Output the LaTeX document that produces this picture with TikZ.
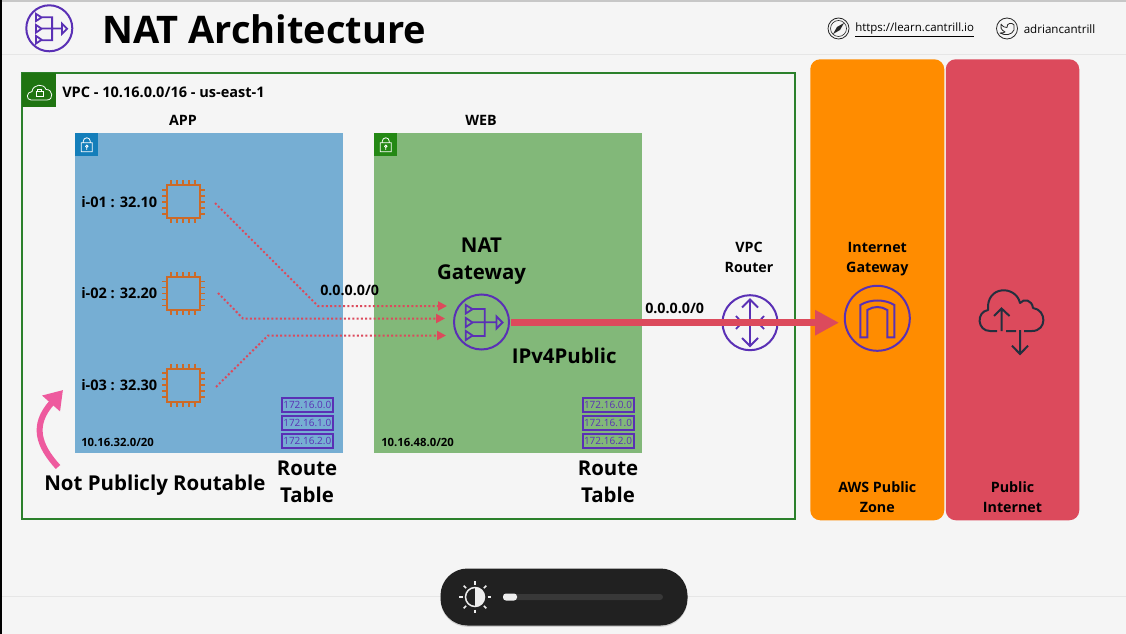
\documentclass[tikz,border=0pt]{standalone}
\usepackage{fontspec}
\setmainfont{Open Sans}
\usetikzlibrary{arrows.meta,shadows}
\newlength{\du}
\setlength{\du}{0.75pt}
\definecolor{vpcgreen}{HTML}{2B802B}
\definecolor{tagblue}{HTML}{147EBA}
\definecolor{taggreen}{HTML}{248814}
\definecolor{appblue}{HTML}{76AED3}
\definecolor{webgreen}{HTML}{82B879}
\definecolor{awspurple}{HTML}{5A30B5}
\definecolor{chiporange}{HTML}{CC6A28}
\definecolor{zoneorange}{HTML}{FF8C00}
\definecolor{netred}{HTML}{DC4A5C}
\definecolor{flowred}{HTML}{DC4A5C}
\definecolor{hookpink}{HTML}{EE5A9E}
\definecolor{pagegrey}{HTML}{F5F5F5}
\definecolor{rulegrey}{HTML}{E6E6E6}
\definecolor{inkdark}{HTML}{232F3E}
\tikzset{
  boldtxt/.style={font=\bfseries\fontsize{#1}{#1}\selectfont,inner sep=0pt,align=center,text=black},
  bigstack/.style={font=\bfseries\fontsize{15.3}{20.3}\selectfont,inner sep=0pt,align=center,text=black},
  smallstack/.style={font=\bfseries\fontsize{10.7}{15}\selectfont,inner sep=0pt,align=center,text=black},
  subnet/.style={rectangle,minimum width=268\du,minimum height=320\du,inner sep=0pt,anchor=north west},
  cornertag/.style={rectangle,minimum size=23\du,inner sep=0pt,anchor=north west},
  rtbox/.style={draw=awspurple,line width=2\du,minimum width=51\du,minimum height=14\du,inner sep=0pt,text=awspurple,font=\fontsize{7.5}{7.5}\selectfont},
  chipbox/.style={draw=chiporange,line width=2\du,minimum size=33\du,inner sep=0pt},
  awscircle/.style={circle,draw=awspurple,line width=2\du,inner sep=0pt},
  dotflow/.style={draw=flowred,line width=1.5pt,dash pattern=on 1.5pt off 1.7pt,-{Triangle[length=6.75pt,width=6.75pt,fill=flowred]}},
  zonebox/.style={rectangle,rounded corners=10\du,inner sep=0pt,anchor=north west},
  natglyph/.pic={
    \draw[awspurple,line width=1.8\du,line join=miter] (-15.7,-17)--(-9,-12.8)--(-15.7,-8.5)--cycle (-15.7,-4)--(-9,0.5)--(-15.7,5)--cycle (-15.7,9)--(-9,13.5)--(-15.7,18)--cycle (-9,-13)--(3.3,-13)--(3.3,14)--(-9,14) (-9,0.3)--(15,0.3) (15,-5.5)--(21,0.5)--(15,6.5)--cycle;
  },
  chiplegs/.pic={
    \foreach \pos in {-12,-6,0,6,12} {
      \draw[chiporange,line width=1.6\du] (\pos,-16.5)--(\pos,-21.5) (\pos,16.5)--(\pos,21.5) (-16.5,\pos)--(-21.5,\pos) (16.5,\pos)--(21.5,\pos);
    }
  },
  locksign/.pic={
    \draw[white,line width=0.8\du] (-5.5,-2) rectangle (5.5,7) (-3.5,-2)--(-3.5,-3.5) arc[start angle=180,end angle=360,radius=3.5]--(3.5,-2);
    \draw[white,line width=0.8\du] (0,1.5) circle (1.2) (0,2.7)--(0,5);
  }
}
\begin{document}
\begin{tikzpicture}[x=\du,y=-\du]
\useasboundingbox (0,0) rectangle (1126,634);
\fill[pagegrey] (0,0) rectangle (1126,634);
\fill[rulegrey!70!gray] (0,0) rectangle (1126,2);
\fill[black] (0,0) rectangle (2,634);
\draw[rulegrey,line width=1\du] (2,55)--(1126,55);
\draw[rulegrey,line width=1\du] (2,596)--(1126,596);
% header
\node[awscircle,minimum size=46\du] (headicon) at (49.3,28.3) {};
\pic[scale=0.85] at (headicon) {natglyph};
\node[boldtxt=28.5,anchor=west] (title) at (102,29) {NAT Architecture};
\node[circle,draw=black!85,line width=0.8\du,minimum size=21\du,inner sep=0pt] (compass) at (838.5,28.5) {};
\draw[black!85,line width=0.6\du] (compass) circle (8);
\fill[black!85] (844,23)--(840,30)--(833,34)--(837,27)--cycle;
\node[anchor=west,inner sep=0pt,font=\fontsize{8.6}{8.6}\selectfont] (siteurl) at (855,30) {\underline{https://learn.cantrill.io}};
\node[circle,draw=black!85,line width=0.8\du,minimum size=21\du,inner sep=0pt] (bird) at (1007,28.5) {};
\draw[black!85,line width=0.8\du,line join=round] (1001,24) .. controls (1003,27) and (1005,27.5) .. (1007,27.5) .. controls (1006.5,23) and (1012,22) .. (1014,25) -- (1014,30) .. controls (1012,35) and (1005,36) .. (1000,33) .. controls (1003,33) and (1004,32.5) .. (1005,32) .. controls (1001,30) and (1000,27) .. (1001,24);
\node[anchor=west,inner sep=0pt,font=\fontsize{8.7}{8.7}\selectfont] (handle) at (1023.5,29) {adriancantrill};
% zones
\node[zonebox,fill=zoneorange,minimum width=134\du,minimum height=461\du] (pubzone) at (810,59) {};
\node[zonebox,fill=netred,minimum width=133.5\du,minimum height=461\du] (internet) at (945.5,59) {};
% vpc
\draw[vpcgreen,line width=2\du] (22,73) rectangle (795,519);
\node[cornertag,fill=taggreen!85!black,minimum size=34\du] (vpctag) at (22,73) {};
\draw[white,line width=0.8\du,line join=round] (31,100) .. controls (26,100) and (26,92) .. (32,91.5) .. controls (33,84) and (44,83) .. (46,89.5) .. controls (53,89) and (54,100) .. (47,100)--cycle;
\draw[white,line width=0.8\du] (36,91) rectangle (43,96.5) (37.5,91)--(37.5,89) (41.5,89)--(41.5,91) (37.5,89)--(41.5,89);
\node[boldtxt=10.9,anchor=west] (vpclabel) at (62,92) {VPC - 10.16.0.0/16 - us-east-1};
% subnets
\node[subnet,fill=appblue] (appnet) at (75,133) {};
\node[subnet,fill=webgreen] (webnet) at (374,133) {};
\node[cornertag,fill=tagblue] (apptag) at (75,133) {};
\node[cornertag,fill=taggreen] (webtag) at (374,133) {};
\pic at (apptag) {locksign};
\pic at (webtag) {locksign};
\node[boldtxt=10.7] (applabel) at (183,120) {APP};
\node[boldtxt=10.7] (weblabel) at (481,120) {WEB};
\node[boldtxt=8.5,anchor=west] (appcidr) at (81,442) {10.16.32.0/20};
\node[boldtxt=8.5,anchor=west] (webcidr) at (381,442) {10.16.48.0/20};
% instances
\node[chipbox] (chipa) at (183,202) {};
\node[chipbox] (chipb) at (183,293.5) {};
\node[chipbox] (chipc) at (183,385) {};
\pic at (chipa) {chiplegs};
\pic at (chipb) {chiplegs};
\pic at (chipc) {chiplegs};
\node[boldtxt=10.9,anchor=west] (insta) at (81,202.5) {i-01 : 32.10};
\node[boldtxt=10.9,anchor=west] (instb) at (81,293.5) {i-02 : 32.20};
\node[boldtxt=10.9,anchor=west] (instc) at (81,385) {i-03 : 32.30};
% route tables
\node[rtbox] (appa) at (307.3,404.5) {172.16.0.0};
\node[rtbox] (appb) at (307.3,422.7) {172.16.1.0};
\node[rtbox] (appc) at (307.3,441.2) {172.16.2.0};
\node[rtbox] (weba) at (608,404.5) {172.16.0.0};
\node[rtbox] (webb) at (608,422.7) {172.16.1.0};
\node[rtbox] (webc) at (608,441.2) {172.16.2.0};
\node[bigstack] (apprt) at (307,481.5) {Route\\Table};
\node[bigstack] (webrt) at (608,481.5) {Route\\Table};
\node[boldtxt=15.35,anchor=west] (nopub) at (44,485.5) {Not Publicly Routable};
% gateways
\node[awscircle,minimum size=55\du] (natgw) at (481.5,322) {};
\pic at (natgw) {natglyph};
\node[bigstack] (natlabel) at (481.5,261) {NAT\\Gateway};
\node[boldtxt=15.3,anchor=west] (publabel) at (511.5,356) {IPv4Public};
\node[awscircle,minimum size=55\du] (router) at (750,322.7) {};
\draw[awspurple,line width=1.8\du] (750,300)--(750,345.5) (742,307.5)--(750,299.5)--(758,307.5) (742,338)--(750,346)--(758,338);
\draw[awspurple,line width=1.8\du] (736,316)--(742,322.7)--(736,329) (764,316)--(758,322.7)--(764,329);
\node[smallstack] (routerlabel) at (749,257.5) {VPC\\Router};
\node[circle,draw=awspurple,line width=2\du,inner sep=0pt,minimum size=65\du] (igw) at (877.3,318.3) {};
\draw[awspurple,line width=2\du,line join=miter] (860.3,337.3)--(860.3,305) .. controls (870,299) and (885,299) .. (894.3,305)--(894.3,337.3)--(887.3,337.3)--(887.3,310) .. controls (881,306) and (873.5,306) .. (867.3,310)--(867.3,337.3)--cycle;
\node[smallstack] (igwlabel) at (877.3,259.5) {Internet\\Gateway};
\node[smallstack] (zonelabel) at (877.3,497.5) {AWS Public\\Zone};
\node[smallstack] (netlabel) at (1012.5,497.5) {Public\\Internet};
% cloud
\draw[inkdark,line width=2\du,line join=round] (997,331)--(990,331) .. controls (977,331) and (976,312) .. (988,310) .. controls (986,285) and (1016,285) .. (1020,303) .. controls (1024,298) and (1032,300) .. (1033,308) .. controls (1047,310) and (1047,331) .. (1032,331)--(1024,331) (1006,331)--(1016,331);
\draw[inkdark,line width=2\du] (1001.5,331)--(1001.5,309) (994,316)--(1001.5,308.5)--(1009.5,316) (1020,330)--(1020,353) (1012,345.7)--(1020,354)--(1028,345.7);
% flows
\coordinate (flowa) at (215,203);
\coordinate (benda) at (318,306);
\coordinate (enda) at (447,306);
\coordinate (flowb) at (218,293);
\coordinate (bendb) at (243,318.5);
\coordinate (endb) at (445,318.5);
\coordinate (flowc) at (216,387);
\coordinate (bendc) at (268,335.5);
\coordinate (endc) at (446,335.5);
\draw[dotflow] (flowa)--(benda)--(enda);
\draw[dotflow] (flowb)--(bendb)--(endb);
\draw[dotflow] (flowc)--(bendc)--(endc);
\node[boldtxt=10.7,anchor=west] (routea) at (320,290) {0.0.0.0/0};
\node[boldtxt=10.7,anchor=west] (routeb) at (645,308.5) {0.0.0.0/0};
\coordinate (bigstart) at (511,322.7);
\coordinate (bigend) at (839,322.7);
\draw[flowred,line width=6.5\du,-{Triangle[length=18pt,width=18pt]}] (bigstart)--(bigend);
% pink hook
\coordinate (hookstart) at (58,467);
\coordinate (hooktip) at (63,390);
\draw[hookpink,line width=6\du,-{Triangle[length=13.5pt,width=17pt]}] (hookstart) .. controls (38,445) and (32,425) .. (hooktip);
% brightness pill
\node[rectangle,rounded corners=27\du,fill=black!87,minimum width=247\du,minimum height=57\du,inner sep=0pt,drop shadow={opacity=0.3,shadow xshift=0pt,shadow yshift=-1pt}] (pill) at (564,597) {};
\node[rectangle,rounded corners=3\du,fill=white!22!black,minimum width=160\du,minimum height=6\du,inner sep=0pt] (track) at (583,597) {};
\node[rectangle,rounded corners=3\du,fill=white!93!black,minimum width=14\du,minimum height=7\du,inner sep=0pt] (knob) at (510,597) {};
\node[circle,draw=white!93!black,line width=1.5\du,minimum size=19\du,inner sep=0pt] (sun) at (475,597) {};
\fill[white!93!black] (475,587.5) arc[start angle=-90,end angle=90,radius=9.5]--cycle;
\foreach \ang in {0,45,...,315} {
  \draw[white!93!black,line width=1.5\du] (sun.center)++(\ang:12.5)--++(\ang:3.5);
}
\end{tikzpicture}
\end{document}
